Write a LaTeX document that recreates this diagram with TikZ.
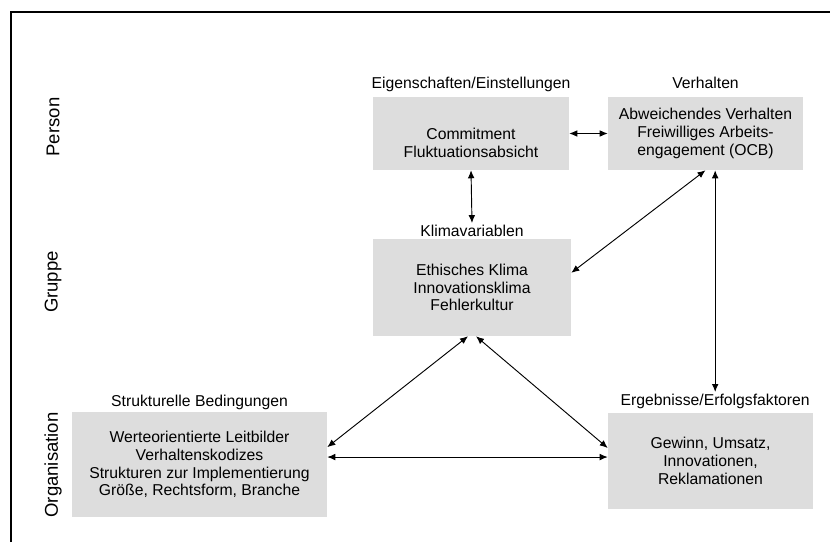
\documentclass[tikz,border=0pt]{standalone}
\usepackage{fontspec}
\setmainfont{Liberation Sans}
\usepackage{tikz}
\usetikzlibrary{arrows.meta,positioning}

\definecolor{boxgray}{RGB}{221,221,221}

\begin{document}
\begin{tikzpicture}[
    x=0.75pt, y=-0.75pt,
    every node/.style={font=\fontsize{11.8}{13.3}\selectfont},
    box/.style={
        fill=boxgray,
        align=center,
        inner sep=2pt
    },
    lbl/.style={inner sep=1.5pt},
    side/.style={rotate=90, font=\fontsize{13.9}{16}\selectfont},
    arr/.style={{Latex[length=6pt,width=5pt]}-{Latex[length=6pt,width=5pt]}, line width=0.7pt}
]
\useasboundingbox (0,0) rectangle (830,542);

% frame
\draw[line width=0.8pt] (11,542) |- (830,12);

% level names
\node[side] (person) at (53,127) {Person};
\node[side] (gruppe) at (53,282) {Gruppe};
\node[side] (organisation) at (53,465) {Organisation};

% boxes
\node[box, minimum width=147pt, minimum height=54.75pt] (comm) at (471,133.5)
    {\strut\\Commitment\\Fluktuationsabsicht};
\node[box, minimum width=146.25pt, minimum height=54.75pt] (verh) at (705.5,133.5)
    {Abweichendes Verhalten\\Freiwilliges Arbeits-\\engagement (OCB)};
\node[box, minimum width=148.5pt, minimum height=72.75pt] (klima) at (472,287.5)
    {Ethisches Klima\\Innovationsklima\\Fehlerkultur};
\node[box, minimum width=191.25pt, minimum height=78.75pt] (org) at (199.5,464.5)
    {Werteorientierte Leitbilder\\Verhaltenskodizes\\Strukturen zur Implementierung\\Größe, Rechtsform, Branche};
\node[box, minimum width=153.75pt, minimum height=72pt] (erg) at (710.5,461)
    {Gewinn, Umsatz,\\Innovationen,\\Reklamationen};

% headings over the boxes
\node[lbl, above=6pt of comm.north, anchor=base] (commlbl) {Eigenschaften/Einstellungen};
\node[lbl, above=6pt of verh.north, anchor=base] (verhlbl) {Verhalten};
\node[lbl, above=1.5pt of klima.north, anchor=base] (klimalbl) {Klimavariablen};
\node[lbl, above=3.8pt of org.north, anchor=base] (orglbl) {Strukturelle Bedingungen};
\node[lbl, above=5.3pt of erg.north, anchor=base, xshift=3.5pt] (erglbl) {Ergebnisse/Erfolgsfaktoren};

% connections
\draw[arr] (comm.east) -- (verh.west);
\draw[arr] (comm.south) -- (klimalbl.north);
\draw[arr] ([yshift=11pt]klima.east) -- (verh.south);
\draw[arr] (erglbl.north) -- (erglbl.north |- verh.south);
\draw[arr] ([xshift=-3pt]klima.south) -- ([yshift=13pt]org.east);
\draw[arr] ([xshift=3pt]klima.south) -- ([yshift=9.75pt]erg.west);
\draw[arr] ([yshift=5.6pt]org.east) -- ([yshift=5.6pt]org.east -| erg.west);

\end{tikzpicture}
\end{document}
